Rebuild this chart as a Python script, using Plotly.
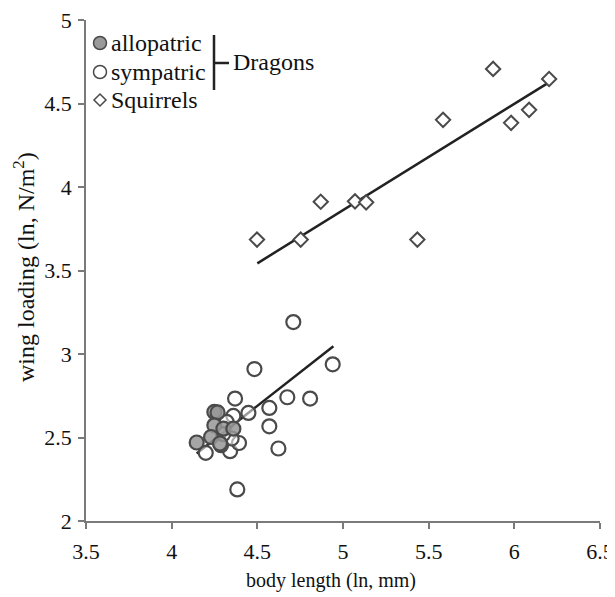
import plotly.graph_objects as go

# ---- data ----
allo_x = [4.146, 4.249, 4.268, 4.249, 4.230, 4.302, 4.360, 4.282]
allo_y = [2.470, 2.653, 2.650, 2.573, 2.503, 2.553, 2.553, 2.464]

symp_x = [4.710, 4.940, 4.483, 4.370, 4.675, 4.808, 4.570, 4.448, 4.570, 4.623,
          4.383, 4.199, 4.341, 4.393, 4.360, 4.350, 4.288, 4.321, 4.300]
symp_y = [3.191, 2.938, 2.910, 2.733, 2.741, 2.733, 2.677, 2.647, 2.567, 2.434,
          2.189, 2.408, 2.418, 2.467, 2.629, 2.494, 2.454, 2.593, 2.520]

squirrel_x = [4.498, 4.753, 4.870, 5.070, 5.135, 5.434, 5.584, 5.876, 5.981, 6.086, 6.203]
squirrel_y = [3.685, 3.685, 3.912, 3.914, 3.908, 3.685, 4.402, 4.707, 4.384, 4.462, 4.647]

dragon_fit_x = [4.146, 4.944]
dragon_fit_y = [2.404, 3.047]
squirrel_fit_x = [4.500, 6.200]
squirrel_fit_y = [3.543, 4.625]

x_ticks = [3.5, 4, 4.5, 5, 5.5, 6, 6.5]
y_ticks = [2, 2.5, 3, 3.5, 4, 4.5, 5]

x_title = "body length (ln, mm)"
y_title = "wing loading (ln, N/m<sup>2</sup>)"

FONT = "Liberation Serif"
FS_TICK = 22
FS_XT = 20
FS_YT = 24
FS_LEG = 24
LINE_C = "#222222"
EDGE_C = "#4a4a4a"
TEXT_C = "#111111"

# page body has an 8px default margin; figure sized to fit the window
PAGE_OFF = 8
W, H = 615 - PAGE_OFF, 597 - PAGE_OFF
# plot area in window pixels
L_s, T_s, R_s, B_s = 86, 20, 600, 521
L, T = L_s - PAGE_OFF, T_s - PAGE_OFF
PW, PH = R_s - L_s, B_s - T_s

fig = go.Figure()

fig.add_trace(go.Scatter(x=dragon_fit_x, y=dragon_fit_y, mode="lines",
                         line=dict(color=LINE_C, width=2.5), showlegend=False))
fig.add_trace(go.Scatter(x=squirrel_fit_x, y=squirrel_fit_y, mode="lines",
                         line=dict(color=LINE_C, width=2.5), showlegend=False))

fig.add_trace(go.Scatter(x=symp_x, y=symp_y, mode="markers", name="sympatric",
                         marker=dict(symbol="circle", size=14, color="rgba(255,255,255,0.55)",
                                     line=dict(color=EDGE_C, width=2.2)),
                         showlegend=False))
fig.add_trace(go.Scatter(x=allo_x, y=allo_y, mode="markers", name="allopatric",
                         marker=dict(symbol="circle", size=14, color="rgba(150,150,150,0.85)",
                                     line=dict(color=EDGE_C, width=2.2)),
                         showlegend=False))
fig.add_trace(go.Scatter(x=squirrel_x, y=squirrel_y, mode="markers", name="Squirrels",
                         marker=dict(symbol="diamond", size=11, color="white",
                                     line=dict(color=EDGE_C, width=2)),
                         showlegend=False))

# ---- manual legend (positions in window pixels) ----
def xp(px):
    return (px - L_s) / PW
def yp(py):
    return (B_s - py) / PH

mx = 100
rows = [43, 72, 100]
shapes = []
shapes.append(dict(type="circle", xref="paper", yref="paper", xsizemode="pixel", ysizemode="pixel",
                   xanchor=xp(mx), yanchor=yp(rows[0]), x0=-6.5, x1=6.5, y0=-6.5, y1=6.5,
                   fillcolor="#9a9a9a", line=dict(color=EDGE_C, width=1.5)))
shapes.append(dict(type="circle", xref="paper", yref="paper", xsizemode="pixel", ysizemode="pixel",
                   xanchor=xp(mx), yanchor=yp(rows[1]), x0=-6.5, x1=6.5, y0=-6.5, y1=6.5,
                   fillcolor="white", line=dict(color=EDGE_C, width=1.5)))
shapes.append(dict(type="path", xref="paper", yref="paper", xsizemode="pixel", ysizemode="pixel",
                   xanchor=xp(mx), yanchor=yp(rows[2]),
                   path="M0,-6 L6,0 L0,6 L-6,0 Z",
                   fillcolor="white", line=dict(color=EDGE_C, width=1.5)))
shapes.append(dict(type="line", xref="paper", yref="paper",
                   x0=xp(214), x1=xp(214), y0=yp(35), y1=yp(90),
                   line=dict(color=LINE_C, width=2.5)))
shapes.append(dict(type="line", xref="paper", yref="paper",
                   x0=xp(214), x1=xp(229), y0=yp(63), y1=yp(63),
                   line=dict(color=LINE_C, width=2.5)))

labels = ["allopatric", "sympatric", "Squirrels"]
annotations = []
for lab, r in zip(labels, rows):
    annotations.append(dict(text=lab, xref="paper", yref="paper", x=xp(mx + 9), y=yp(r),
                            xanchor="left", yanchor="middle", showarrow=False,
                            font=dict(family=FONT, size=FS_LEG, color=TEXT_C)))
annotations.append(dict(text="Dragons", xref="paper", yref="paper", x=xp(231), y=yp(62),
                        xanchor="left", yanchor="middle", showarrow=False,
                        font=dict(family=FONT, size=FS_LEG, color=TEXT_C)))

# axis titles
annotations.append(dict(text=x_title, xref="paper", yref="paper", x=xp(331), y=yp(580),
                        xanchor="center", yanchor="middle", showarrow=False,
                        font=dict(family=FONT, size=FS_XT, color=TEXT_C)))
annotations.append(dict(text=y_title, xref="paper", yref="paper", x=xp(24), y=yp(267),
                        xanchor="center", yanchor="middle", showarrow=False, textangle=-90,
                        font=dict(family=FONT, size=FS_YT, color=TEXT_C)))

axis_common = dict(showgrid=False, zeroline=False, showline=True, linecolor="#7a7a7a",
                   linewidth=1.5, ticks="outside", ticklen=6, tickcolor="#7a7a7a",
                   tickwidth=1.5, ticklabeloverflow="allow", automargin=False,
                   tickfont=dict(family=FONT, size=FS_TICK, color=TEXT_C))

fig.update_layout(
    width=W, height=H,
    margin=dict(l=L, r=W - L - PW, t=T, b=H - T - PH, autoexpand=False),
    paper_bgcolor="white", plot_bgcolor="white",
    shapes=shapes, annotations=annotations,
    xaxis=dict(range=[3.5, 6.5], tickvals=x_ticks, ticktext=[f"{v:g}" for v in x_ticks],
               ticklabelstandoff=4, **axis_common),
    yaxis=dict(range=[2, 5], tickvals=y_ticks, ticktext=[f"{v:g}" for v in y_ticks],
               ticklabelstandoff=2, **axis_common),
)

fig.write_html("out.html")
